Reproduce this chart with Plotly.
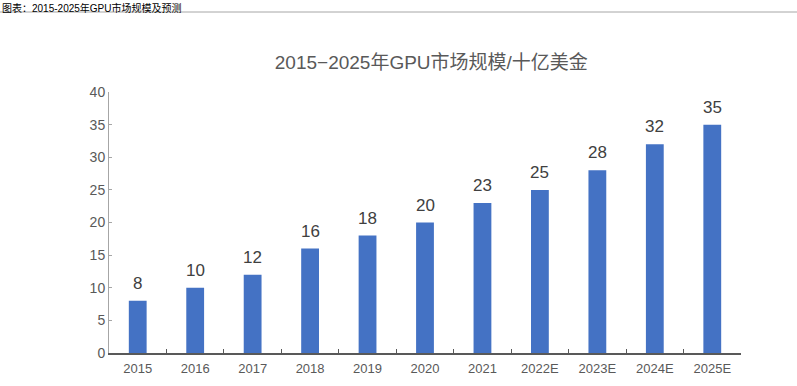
import plotly.graph_objects as go

years = ["2015", "2016", "2017", "2018", "2019", "2020", "2021", "2022E", "2023E", "2024E", "2025E"]
market = [8, 10, 12, 16, 18, 20, 23, 25, 28, 32, 35]
y_ticks = [0, 5, 10, 15, 20, 25, 30, 35, 40]

FONT = "Liberation Sans, Arial, Noto Sans CJK SC, sans-serif"

fig = go.Figure()
fig.add_trace(go.Bar(
    x=years, y=market,
    marker=dict(color="#4472C4", line=dict(width=0)),
    hoverinfo="skip",
))

# value labels: category index on the category axis
for i, v in enumerate(market):
    fig.add_annotation(
        x=i, y=v, text=str(v), showarrow=False,
        xanchor="center", yanchor="bottom", yshift=6,
        font=dict(size=17, color="#404040", family=FONT),
    )

fig.update_layout(
    width=797, height=386,
    margin=dict(l=109, r=56, t=92, b=33),
    paper_bgcolor="white", plot_bgcolor="white",
    bargap=0.69,
    showlegend=False,
    font=dict(family=FONT, color="#595959"),
    title=dict(
        text="2015−2025年GPU市场规模/十亿美金",
        x=0.51, xanchor="center", xref="paper",
        y=1 - 62/386, yanchor="middle", yref="container",
        font=dict(size=19, color="#595959", family=FONT),
    ),
    xaxis=dict(
        type="category", tickangle=0, automargin=False,
        categoryorder="array", categoryarray=years,
        showline=True, linecolor="#595959", linewidth=1.5,
        ticks="inside", tickson="boundaries", ticklen=4, tickcolor="#595959",
        tickfont=dict(size=13, color="#595959"),
        ticklabelstandoff=3,
        showgrid=False,
    ),
    yaxis=dict(
        range=[0, 40], tickvals=y_ticks, automargin=False,
        showline=True, linecolor="#A6A6A6", linewidth=1,
        ticks="inside", ticklen=3, tickcolor="#A6A6A6",
        tickfont=dict(size=14, color="#595959"),
        showgrid=False, zeroline=False,
    ),
    shapes=[dict(type="line", xref="paper", yref="paper",
                 x0=-109/632, x1=(797-109)/632, y0=1+80/261, y1=1+80/261,
                 line=dict(color="#A6A6A6", width=1))],
)
fig.add_annotation(
    text="图表：2015-2025年GPU市场规模及预测", xref="paper", yref="paper",
    x=-109/632, y=1 + 92/261, xanchor="left", yanchor="top",
    showarrow=False, font=dict(size=10, color="#000000", family=FONT),
)

fig.write_html("out.html", config={"displayModeBar": False},
               post_script="document.body.style.margin='0';document.body.style.overflow='hidden';")
